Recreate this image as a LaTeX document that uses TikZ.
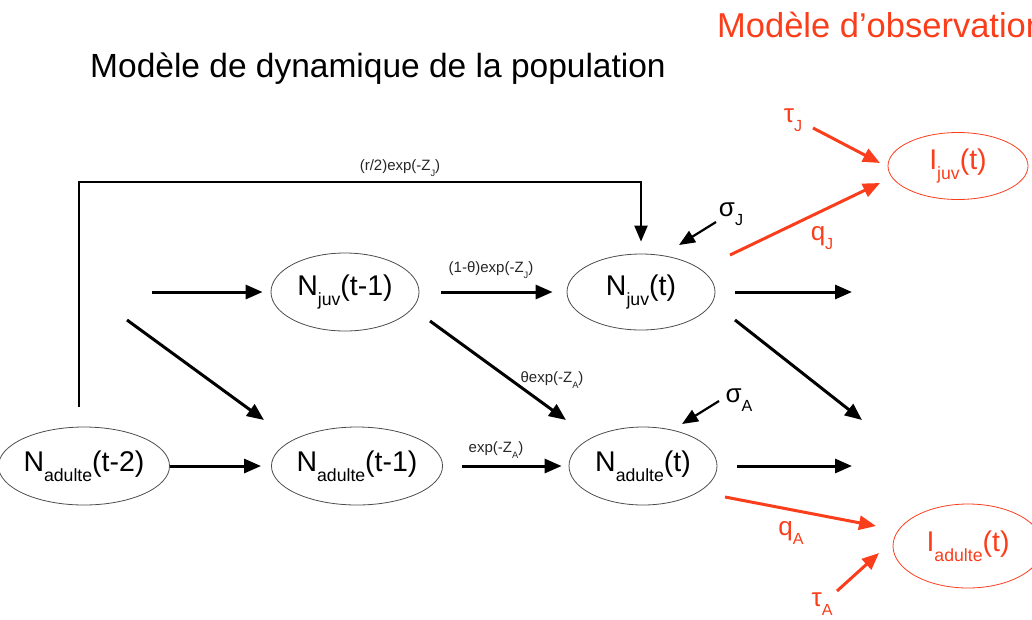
\documentclass[tikz,border=0pt]{standalone}
\usepackage{fontspec}
\setmainfont{Liberation Sans}
\usetikzlibrary{arrows.meta,shapes.geometric,calc}
\definecolor{obsred}{RGB}{250,62,28}
\newcommand\lowsub[1]{\raisebox{-0.36em}{\scalebox{0.62}{#1}}}
\begin{document}
\begin{tikzpicture}[x=1pt,y=-1pt,
  popnode/.style={ellipse, draw=black!70, line width=0.8pt, minimum width=148pt,
    minimum height=78pt, inner sep=0pt, font=\fontsize{28.5}{30}\selectfont},
  obsnode/.style={popnode, draw=obsred, text=obsred},
  arr/.style={line width=3pt, -{Triangle[length=17pt,width=14pt]}},
  thinarr/.style={line width=2.2pt, -{Triangle[length=16pt,width=13pt]}},
  obsarr/.style={line width=3pt, draw=obsred, -{Triangle[length=17pt,width=14pt]}, obsred},
  lbl/.style={font=\fontsize{15}{17}\selectfont, text=black!85, inner sep=0pt},
  greek/.style={font=\fontsize{26}{28}\selectfont, inner sep=0pt},
  title/.style={font=\fontsize{33.5}{36}\selectfont, inner sep=0pt}]
\useasboundingbox (0,0) rectangle (1032,619);

% titles
\node[title, anchor=base] (poptitle) at (378,77) {Modèle de dynamique de la population};
\node[title, anchor=base west, text=obsred, font=\fontsize{34.5}{36}\selectfont] (obstitle) at (717,37) {Modèle d’observation};

% population nodes
\node[popnode, minimum height=78pt] (na2) at (84,466) {N\lowsub{adulte}(t-2)};
\node[popnode, minimum height=78pt] (na1) at (357,466) {N\lowsub{adulte}(t-1)};
\node[popnode, minimum height=78pt] (nj1) at (345,292) {N\lowsub{juv}(t-1)};
\node[popnode, minimum height=76pt] (nj) at (641,292) {N\lowsub{juv}(t)};
\node[popnode, minimum height=78pt] (na) at (643,466) {N\lowsub{adulte}(t)};

% observation nodes
\node[obsnode, minimum width=140pt, minimum height=67pt] (ij) at (958,166) {I\lowsub{juv}(t)};
\node[obsnode, minimum width=150pt, minimum height=84pt] (ia) at (968,546) {I\lowsub{adulte}(t)};

% free ends
\coordinate (s1) at (152,292);
\coordinate (s2a) at (127,320);
\coordinate (s2b) at (264,420);
\coordinate (e1) at (852,292);
\coordinate (e2) at (862,420);
\coordinate (e3) at (852,466);
\coordinate (loopA) at (79,407);
\coordinate (loopB) at (79,182);

% loop arrow
\draw[thinarr] (loopA) -- (loopB) -| (nj.north) [shorten >=12pt];
\node[lbl] (llab) at (400,168) {(r/2)exp(-Z\lowsub{J})};

% horizontal arrows
\draw[arr, shorten >=8pt] (s1) -- (nj1);
\draw[arr, shorten >=10pt] (na2.east) -- (na1.west);
\draw[arr, shorten <=22pt, shorten >=14pt] (nj1.east) -- (nj.west);
\draw[arr, shorten <=19pt, shorten >=7pt] (na1.east) -- (na.west);
\draw[arr, shorten <=20pt] (nj.east) -- (e1);
\draw[arr, shorten <=20pt] (na.east) -- (e3);

% diagonal arrows
\draw[arr] (s2a) -- (s2b);
\draw[arr] ($(nj1)+(85,29)$) -- ($(na)+(-77,-46)$);
\draw[arr] ($(nj)+(94,28)$) -- (e2);

% edge labels
\node[lbl] (l1) at (491,270) {(1-θ)exp(-Z\lowsub{J})};
\node[lbl] (l2) at (552,380) {θexp(-Z\lowsub{A})};
\node[lbl] (l3) at (496,450) {exp(-Z\lowsub{A})};

% process noise
\node[greek] (sj) at (731,214) {σ\lowsub{J}};
\draw[thinarr] ($(sj)+(-15,8)$) -- ($(nj)+(38,-47)$);
\node[greek] (sa) at (739,400) {σ\lowsub{A}};
\draw[thinarr] ($(sa)+(-20,1)$) -- ($(na)+(39,-42)$);

% observation arrows
\draw[obsarr] ($(nj)+(89,-37)$) -- ($(ij)+(-78,17)$);
\node[greek, text=obsred] (qj) at (822,238) {q\lowsub{J}};
\node[greek, text=obsred] (tj) at (793,120) {τ\lowsub{J}};
\draw[obsarr] ($(tj)+(20,8)$) -- ($(ij)+(-78,-3)$);

\draw[obsarr] ($(na)+(82,31)$) -- ($(ia)+(-92,-20)$);
\node[greek, text=obsred] (qa) at (791,533) {q\lowsub{A}};
\node[greek, text=obsred] (ta) at (822,604) {τ\lowsub{A}};
\draw[obsarr] ($(ta)+(15,-13)$) -- ($(ia)+(-89,7)$);
\end{tikzpicture}
\end{document}
